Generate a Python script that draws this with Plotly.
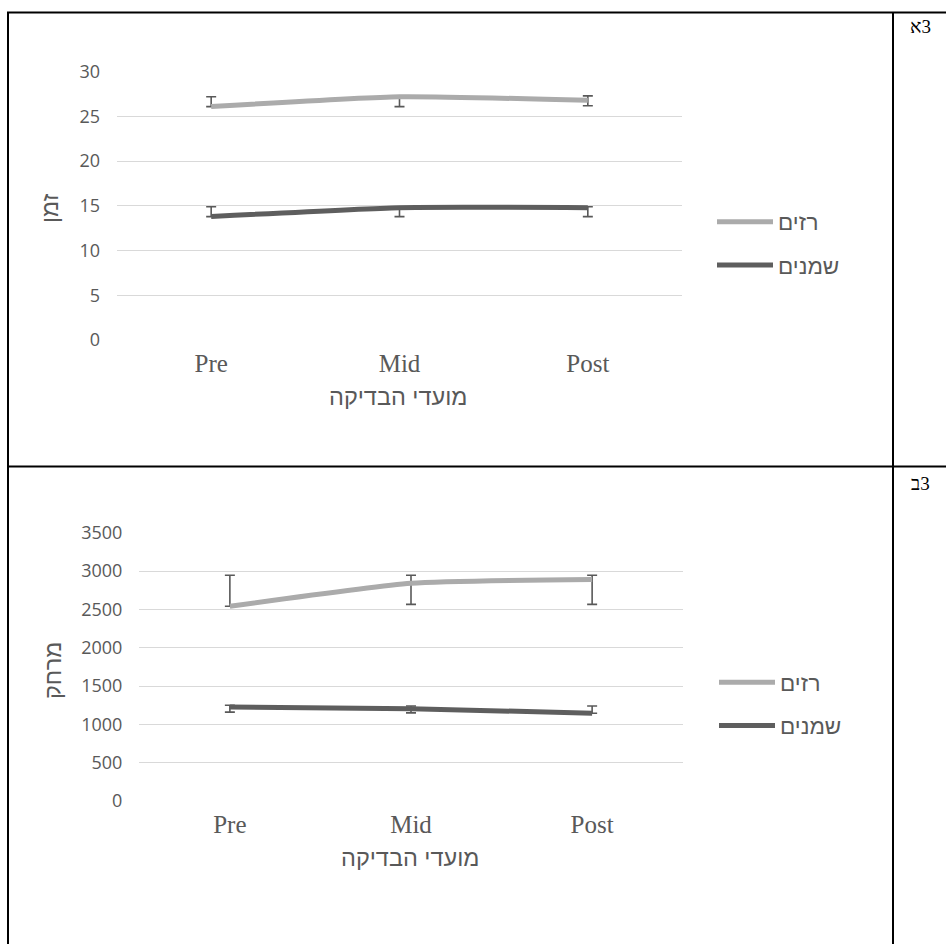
import plotly.graph_objects as go

W, H = 946, 944

categories = ["Pre", "Mid", "Post"]
series_names = ["רזים", "שמנים"]

# Chart 3א : time
time_thin = [26.1, 27.2, 26.8]
time_thin_plus = [1.1, 0.0, 0.5]
time_thin_minus = [0.0, 1.1, 0.6]
time_fat = [13.8, 14.8, 14.8]
time_fat_plus = [1.1, 0.0, 0.1]
time_fat_minus = [0.0, 1.0, 1.0]

# Chart 3ב : distance
dist_thin = [2540, 2840, 2890]
dist_thin_plus = [405, 105, 55]
dist_thin_minus = [0, 275, 325]
dist_fat = [1225, 1205, 1145]
dist_fat_plus = [25, 35, 95]
dist_fat_minus = [65, 55, 0]

time_ticks = [0, 5, 10, 15, 20, 25, 30]
dist_ticks = [0, 500, 1000, 1500, 2000, 2500, 3000, 3500]

x_title = "מועדי הבדיקה"
y_title_1 = "זמן"
y_title_2 = "מרחק"
panel_labels = ["\u202dא3\u202c", "\u202dב3\u202c"]

LIGHT = "#ABABAB"
DARK = "#5E5E5E"
ERR = "#595959"
TXT = "#595959"
GRID = "#D9D9D9"


def X(px):
    return px / W


def Y(py):
    return 1 - py / H


fig = go.Figure()


def add_series(vals, plus, minus, name, color, xa, ya, legend):
    fig.add_trace(go.Scatter(
        x=categories, y=vals, name=name, mode="lines",
        line=dict(color=color, width=5, shape="spline", smoothing=0.5),
        error_y=dict(type="data", array=plus, arrayminus=minus, symmetric=False,
                     color=ERR, thickness=1.6, width=5),
        xaxis=xa, yaxis=ya, legend=legend, legendgroup=legend + name,
    ))


add_series(time_thin, time_thin_plus, time_thin_minus, series_names[0], LIGHT, "x", "y", "legend")
add_series(time_fat, time_fat_plus, time_fat_minus, series_names[1], DARK, "x", "y", "legend")
add_series(dist_thin, dist_thin_plus, dist_thin_minus, series_names[0], LIGHT, "x2", "y2", "legend2")
add_series(dist_fat, dist_fat_plus, dist_fat_minus, series_names[1], DARK, "x2", "y2", "legend2")

xfont = dict(family="Liberation Serif", size=25, color=TXT)
yfont = dict(family="Open Sans", size=18, color=TXT)

common_x = dict(type="category", range=[-0.5, 2.5], showgrid=False, showline=False,
                zeroline=False, ticks="", tickfont=xfont, fixedrange=True,
                automargin=False, ticklabelstandoff=6)
common_y = dict(showgrid=True, gridcolor=GRID, gridwidth=1.3, zeroline=False,
                showline=False, ticks="", tickfont=yfont, ticklabelstandoff=16,
                automargin=False)

legend_common = dict(
    font=dict(family="Liberation Sans", size=22.5, color=TXT),
    bgcolor="rgba(0,0,0,0)", xanchor="left", yanchor="middle",
    itemwidth=56, tracegroupgap=11, traceorder="grouped",
)

fig.update_layout(
    width=W, height=H,
    margin=dict(l=0, r=0, t=0, b=0, autoexpand=False),
    paper_bgcolor="white", plot_bgcolor="white",
    showlegend=True,
    xaxis=dict(common_x, domain=[X(117), X(682)], anchor="y"),
    yaxis=dict(common_y, domain=[Y(340), Y(71.7)], range=[0, 30],
               tickvals=time_ticks, anchor="x"),
    xaxis2=dict(common_x, domain=[X(139.3), X(682.7)], anchor="y2"),
    yaxis2=dict(common_y, domain=[Y(801), Y(532.7)], range=[0, 3500],
                tickvals=dist_ticks, anchor="x2"),
    legend=dict(legend_common, x=X(712), y=Y(243.5)),
    legend2=dict(legend_common, x=X(714), y=Y(704)),
)

title_font = dict(family="Liberation Sans", size=23.5, color=TXT)
annotations = [
    dict(text=x_title, x=X(398), y=Y(397)),
    dict(text=x_title, x=X(410), y=Y(858)),
    dict(text=y_title_1, x=X(50), y=Y(208), textangle=-90),
    dict(text=y_title_2, x=X(53), y=Y(671), textangle=-90),
]
for a in annotations:
    fig.add_annotation(xref="paper", yref="paper", showarrow=False,
                       xanchor="center", yanchor="middle", font=title_font, **a)

for lbl, py in zip(panel_labels, [27, 484]):
    fig.add_annotation(xref="paper", yref="paper", showarrow=False, text=lbl,
                       x=X(920), y=Y(py), xanchor="center", yanchor="middle",
                       font=dict(family="Liberation Serif", size=19, color="black"))

# table borders
border = dict(color="black", width=2)
for (x0, y0, x1, y1) in [(7, 12.5, 946, 12.5), (7, 466.5, 946, 466.5),
                         (8, 12, 8, 944), (893, 12, 893, 944)]:
    fig.add_shape(type="line", xref="paper", yref="paper",
                  x0=X(x0), y0=Y(y0), x1=X(x1), y1=Y(y1), line=border)

fig.write_html(
    "out.html",
    config={"displayModeBar": False},
    post_script="document.body.style.margin='0';document.body.style.overflow='hidden';",
)
